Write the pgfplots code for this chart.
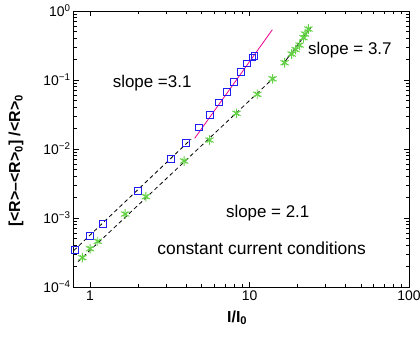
\documentclass[border=0pt]{standalone}
\usepackage{fontspec}
\setmainfont{Liberation Sans}
\usepackage{pgfplots}
\pgfplotsset{compat=1.18}
\definecolor{sqblue}{RGB}{30,30,240}
\definecolor{stgreen}{RGB}{100,210,70}
\begin{document}
\begin{tikzpicture}
\begin{axis}[
  at={(0,0)}, anchor=south west,
  scale only axis, width=335bp, height=276bp,
  xmode=log, ymode=log,
  xmin=0.793, xmax=100, ymin=1e-4, ymax=1,
  xtick={1,10,100}, xticklabels={1,10,100},
  ytick={1e-4,1e-3,1e-2,1e-1,1},
  yticklabels={10\textsuperscript{−4},10\textsuperscript{−3},10\textsuperscript{−2},10\textsuperscript{−1},10\textsuperscript{0}},
  tick align=inside, major tick length=5bp, minor tick length=3bp,
  tick style={black, line width=0.6bp},
  axis line style={line width=1bp},
  ticklabel style={font=\fontsize{14}{16}\selectfont},
  xlabel={\bfseries I/I\textsubscript{0}},
  ylabel={\bfseries [<R>–<R>\textsubscript{0}] /<R>\textsubscript{0}},
  label style={font=\fontsize{16}{19}\selectfont},
  xlabel style={at={(axis description cs:0.487,-0.112)}, anchor=center},
  ylabel style={at={(axis description cs:-0.173,0.457)}, anchor=center},
]
% dashed fit lines
\addplot[black, dashed, line width=0.8bp, dash pattern=on 4bp off 3bp] coordinates {(0.79,3.37e-4) (4.3,0.0139)};
\addplot[black, dashed, line width=0.8bp, dash pattern=on 4bp off 3bp] coordinates {(0.84,2.33e-4) (14.2,0.108)};
\addplot[black, line width=0.8bp] coordinates {(16.06,0.165) (24.2,0.573)};
\addplot[magenta, line width=0.8bp] coordinates {(4.53,0.01429) (13.9,0.536)};
% squares
\addplot[only marks, mark=square, mark size=3.3bp, mark options={draw=sqblue, line width=0.9bp}] coordinates {
(0.801,3.44e-4) (0.996,5.48e-4) (1.207,8.18e-4) (1.995,2.49e-3) (3.218,7.16e-3)
(4.0,0.01234) (4.80,0.0204) (5.63,0.0309) (6.43,0.0472) (7.24,0.067)
(8.01,0.0945) (8.81,0.1306) (9.67,0.1746) (10.45,0.212) (10.75,0.222)};
% stars
\addplot[only marks, mark=asterisk, mark size=4.8bp, mark options={draw=stgreen, line width=0.9bp}] coordinates {
(0.895,2.66e-4) (1.0,3.59e-4) (1.118,4.59e-4) (1.66,1.143e-3) (2.24,2.04e-3)
(3.89,6.7e-3) (5.61,0.0135) (8.28,0.0329) (11.18,0.0621) (13.95,0.104)
(16.6,0.178) (18.37,0.238) (19.46,0.275) (20.6,0.321) (21.8,0.41) (22.3,0.464) (23.4,0.548)};
\addplot[only marks, mark=x, mark size=3.4bp, mark options={draw=stgreen, line width=0.9bp}] coordinates {
(0.895,2.66e-4) (1.0,3.59e-4) (1.118,4.59e-4) (1.66,1.143e-3) (2.24,2.04e-3)
(3.89,6.7e-3) (5.61,0.0135) (8.28,0.0329) (11.18,0.0621) (13.95,0.104)
(16.6,0.178) (18.37,0.238) (19.46,0.275) (20.6,0.321) (21.8,0.41) (22.3,0.464) (23.4,0.548)};
\node[font=\fontsize{17}{20}\selectfont] at (axis cs:2.45,0.0905) {slope =3.1};
\node[font=\fontsize{17}{20}\selectfont] at (axis cs:42.6,0.272) {slope = 3.7};
\node[font=\fontsize{17}{20}\selectfont] at (axis cs:13.0,1.18e-3) {slope = 2.1};
\node[font=\fontsize{17.5}{20}\selectfont] at (axis cs:11.9,3.7e-4) {constant current conditions};
\end{axis}
\pgfresetboundingbox
\path (-74bp,-54bp) rectangle (346bp,287bp);
\end{tikzpicture}
\end{document}
